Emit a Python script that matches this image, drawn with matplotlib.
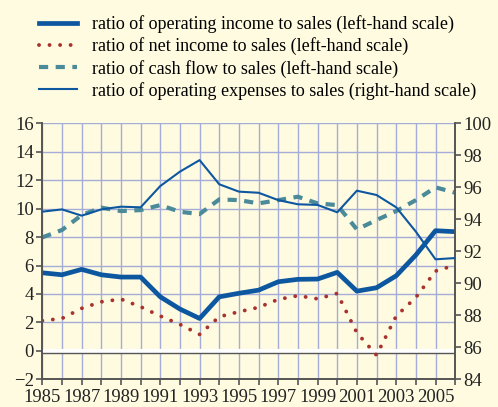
import matplotlib
matplotlib.use('Agg')
from matplotlib import pyplot as plt

years = list(range(1985, 2007))

# ratio of operating income to sales (left-hand scale)
op_income = [5.49, 5.35, 5.73, 5.35, 5.19, 5.19, 3.80, 2.94, 2.28, 3.80, 4.05,
             4.27, 4.86, 5.03, 5.05, 5.52, 4.20, 4.44, 5.28, 6.74, 8.45, 8.38]
# ratio of net income to sales (left-hand scale)
net_income = [2.12, 2.28, 2.99, 3.45, 3.64, 3.10, 2.45, 1.86, 1.16, 2.40, 2.75,
              3.06, 3.62, 3.88, 3.66, 4.04, 1.27, -0.30, 2.45, 3.76, 5.61, 6.03]
# ratio of cash flow to sales (left-hand scale)
cash_flow = [7.98, 8.50, 9.55, 10.07, 9.83, 9.90, 10.25, 9.78, 9.62, 10.65, 10.60,
             10.37, 10.60, 10.84, 10.37, 10.25, 8.54, 9.20, 9.83, 10.60, 11.50, 11.12]
# ratio of operating expenses to sales (right-hand scale)
op_expenses = [94.48, 94.62, 94.23, 94.62, 94.79, 94.75, 96.08, 96.98, 97.70, 96.19, 95.73,
               95.66, 95.20, 94.94, 94.90, 94.44, 95.79, 95.52, 94.75, 93.23, 91.50, 91.58]

labels = ['ratio of operating income to sales (left-hand scale)',
          'ratio of net income to sales (left-hand scale)',
          'ratio of cash flow to sales (left-hand scale)',
          'ratio of operating expenses to sales (right-hand scale)']

bg = '#FFFBE0'
blue = '#0D57A0'
teal = '#4A8A99'
red = '#A8322D'
grid_c = '#A3ADD8'
spine_c = '#555555'

plt.rcParams['font.family'] = ['Liberation Serif', 'DejaVu Serif']
plt.rcParams['font.size'] = 13.5

fig = plt.figure(figsize=(4.98, 4.07), dpi=100, facecolor=bg)
ax = fig.add_axes([0.085, 0.068, 0.829, 0.629])
ax.set_facecolor(bg)
ax2 = ax.twinx()

ax.set_xlim(1985, 2006)
ax.set_ylim(-2, 16)
ax2.set_ylim(84, 100)

ax.set_xticks(years)
ax.set_xticklabels([str(y) if (y - 1985) % 2 == 0 else '' for y in years])
ax.set_yticks(range(-2, 17, 2))
ax2.set_yticks(range(84, 101, 2))

ax.grid(True, color=grid_c, lw=1.0)
ax.set_axisbelow(True)

ax.axhline(0, color='white', lw=3, zorder=1.5)
ax.axhline(-0.13, color=spine_c, lw=1.0, zorder=1.6)

l1, = ax.plot(years, op_income, color=blue, lw=3.4, solid_joinstyle='round', zorder=3)
l2, = ax.plot(years, net_income, color=red, lw=2.8, linestyle=(0, (0.01, 2.7)),
              dash_capstyle='round', zorder=3)
l3, = ax.plot(years, cash_flow, color=teal, lw=3.0, linestyle=(0, (2.2, 1.8)), zorder=3)
l4, = ax2.plot(years, op_expenses, color=blue, lw=1.5, zorder=3)

for a in (ax, ax2):
    a.spines['top'].set_visible(False)
    for s in ('left', 'right', 'bottom'):
        a.spines[s].set_color(spine_c)
        a.spines[s].set_linewidth(1.2)
    a.tick_params(colors=spine_c, labelcolor='#222222', length=4, width=1.2, pad=2)
ax.tick_params(axis='x', pad=3, labelsize=13.4)

fig.legend([l1, l2, l3, l4], labels, loc='upper left',
           bbox_to_anchor=(0.078, 0.962), frameon=False, handlelength=2.1,
           handletextpad=0.85, labelspacing=0.23, borderpad=0, borderaxespad=0,
           fontsize=13)

fig.savefig('out.png', dpi=100, facecolor=bg)
